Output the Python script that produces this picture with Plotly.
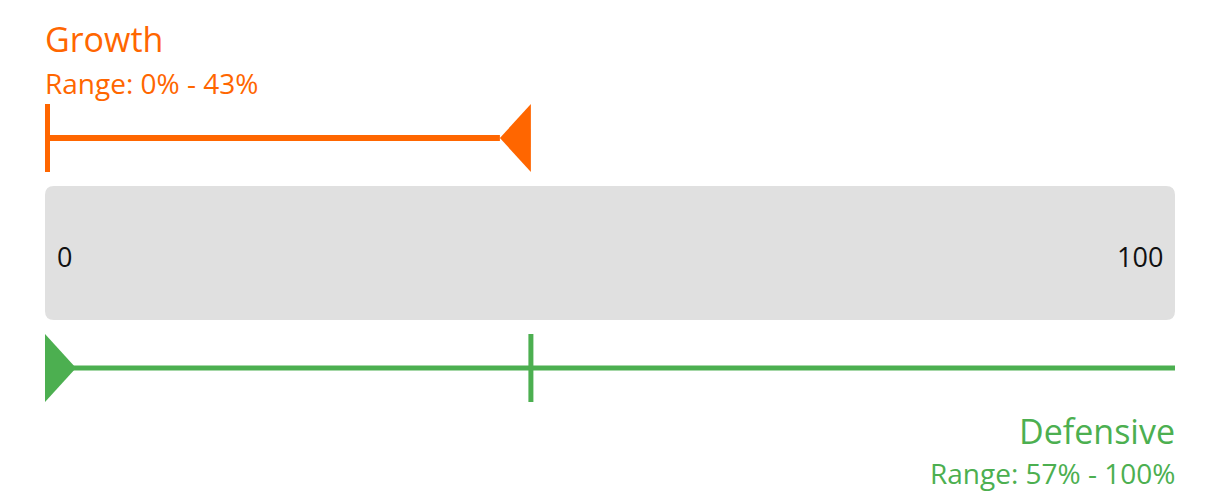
import plotly.graph_objects as go

# ---- data ----
categories = ["Growth", "Defensive"]
range_low = [0, 57]
range_high = [43, 100]
scale_ticks = [0, 100]
scale_labels = ["0", "100"]
colors = ["#ff6600", "#4caf50"]

W, H = 1220, 499
OFF = 8  # page body margin offset
LEFT_PX, RIGHT_PX = 45 - OFF, 1175 - OFF
ppu = (RIGHT_PX - LEFT_PX) / (scale_ticks[1] - scale_ticks[0])  # px per unit
x0 = scale_ticks[0] - LEFT_PX / ppu
x1 = scale_ticks[1] + (W - RIGHT_PX) / ppu


def px(v):
    return v / ppu


def sy(y):
    return y - OFF


FONT = "Open Sans, Lato, sans-serif"
fig = go.Figure()

# grey scale bar with rounded corners
bt, bb, r = sy(186), sy(320), 9
a, b = scale_ticks[0], scale_ticks[1]
rx = px(r)
path = (f"M {a+rx},{bt} L {b-rx},{bt} Q {b},{bt} {b},{bt+r} L {b},{bb-r} Q {b},{bb} {b-rx},{bb} "
        f"L {a+rx},{bb} Q {a},{bb} {a},{bb-r} L {a},{bt+r} Q {a},{bt} {a+rx},{bt} Z")
fig.add_shape(type="path", path=path, fillcolor="#e0e0e0", line=dict(width=0), layer="below")

for v, lab, xa in zip(scale_ticks, scale_labels, ["left", "right"]):
    off = px(10) if xa == "left" else -px(10)
    fig.add_annotation(x=v + off, y=sy(256), text=lab, showarrow=False, xanchor=xa, yanchor="middle",
                       font=dict(family=FONT, size=27, color="#111111"))

# ---- Growth (measured from left) ----
g_lo, g_hi = range_low[0], range_high[0]
gy, gh = sy(138), 34
tri = px(31)
fig.add_trace(go.Scatter(x=[g_lo, g_hi - tri], y=[gy, gy], mode="lines",
                         line=dict(color=colors[0], width=6), hoverinfo="skip"))
fig.add_trace(go.Scatter(x=[g_lo + px(2.5), g_lo + px(2.5)], y=[gy - gh, gy + gh], mode="lines",
                         line=dict(color=colors[0], width=5), hoverinfo="skip"))
fig.add_trace(go.Scatter(x=[g_hi, g_hi, g_hi - tri, g_hi], y=[gy - gh, gy + gh, gy, gy - gh],
                         mode="lines", fill="toself", fillcolor=colors[0],
                         line=dict(color=colors[0], width=0), hoverinfo="skip"))
fig.add_annotation(x=scale_ticks[0] - px(2), y=sy(39), text=categories[0], showarrow=False, xanchor="left",
                   yanchor="middle", font=dict(family=FONT, size=34, color=colors[0]))
fig.add_annotation(x=scale_ticks[0] - px(2), y=sy(83), text=f"Range: {g_lo}% - {g_hi}%", showarrow=False,
                   xanchor="left", yanchor="middle", font=dict(family=FONT, size=28, color=colors[0]))

# ---- Defensive (measured from right) ----
d_lo, d_hi = range_low[1], range_high[1]
d_tip = scale_ticks[1] - d_hi   # 100% -> 0
d_tick = scale_ticks[1] - d_lo  # 57% -> 43
dy, dh = sy(368), 34
fig.add_trace(go.Scatter(x=[scale_ticks[0], scale_ticks[1]], y=[dy, dy], mode="lines",
                         line=dict(color=colors[1], width=5), hoverinfo="skip"))
fig.add_trace(go.Scatter(x=[d_tick, d_tick], y=[dy - dh, dy + dh], mode="lines",
                         line=dict(color=colors[1], width=5), hoverinfo="skip"))
fig.add_trace(go.Scatter(x=[d_tip, d_tip, d_tip + tri, d_tip], y=[dy - dh, dy + dh, dy, dy - dh],
                         mode="lines", fill="toself", fillcolor=colors[1],
                         line=dict(color=colors[1], width=0), hoverinfo="skip"))
fig.add_annotation(x=scale_ticks[1] + px(2), y=sy(431), text=categories[1], showarrow=False, xanchor="right",
                   yanchor="middle", font=dict(family=FONT, size=34, color=colors[1]))
fig.add_annotation(x=scale_ticks[1] + px(2), y=sy(473), text=f"Range: {d_lo}% - {d_hi}%", showarrow=False,
                   xanchor="right", yanchor="middle", font=dict(family=FONT, size=28, color=colors[1]))

fig.update_layout(
    width=W, height=H, margin=dict(l=0, r=0, t=0, b=0),
    paper_bgcolor="white", plot_bgcolor="white", showlegend=False,
    xaxis=dict(range=[x0, x1], visible=False, fixedrange=True),
    yaxis=dict(range=[H, 0], visible=False, fixedrange=True),
)
fig.write_html("out.html")
